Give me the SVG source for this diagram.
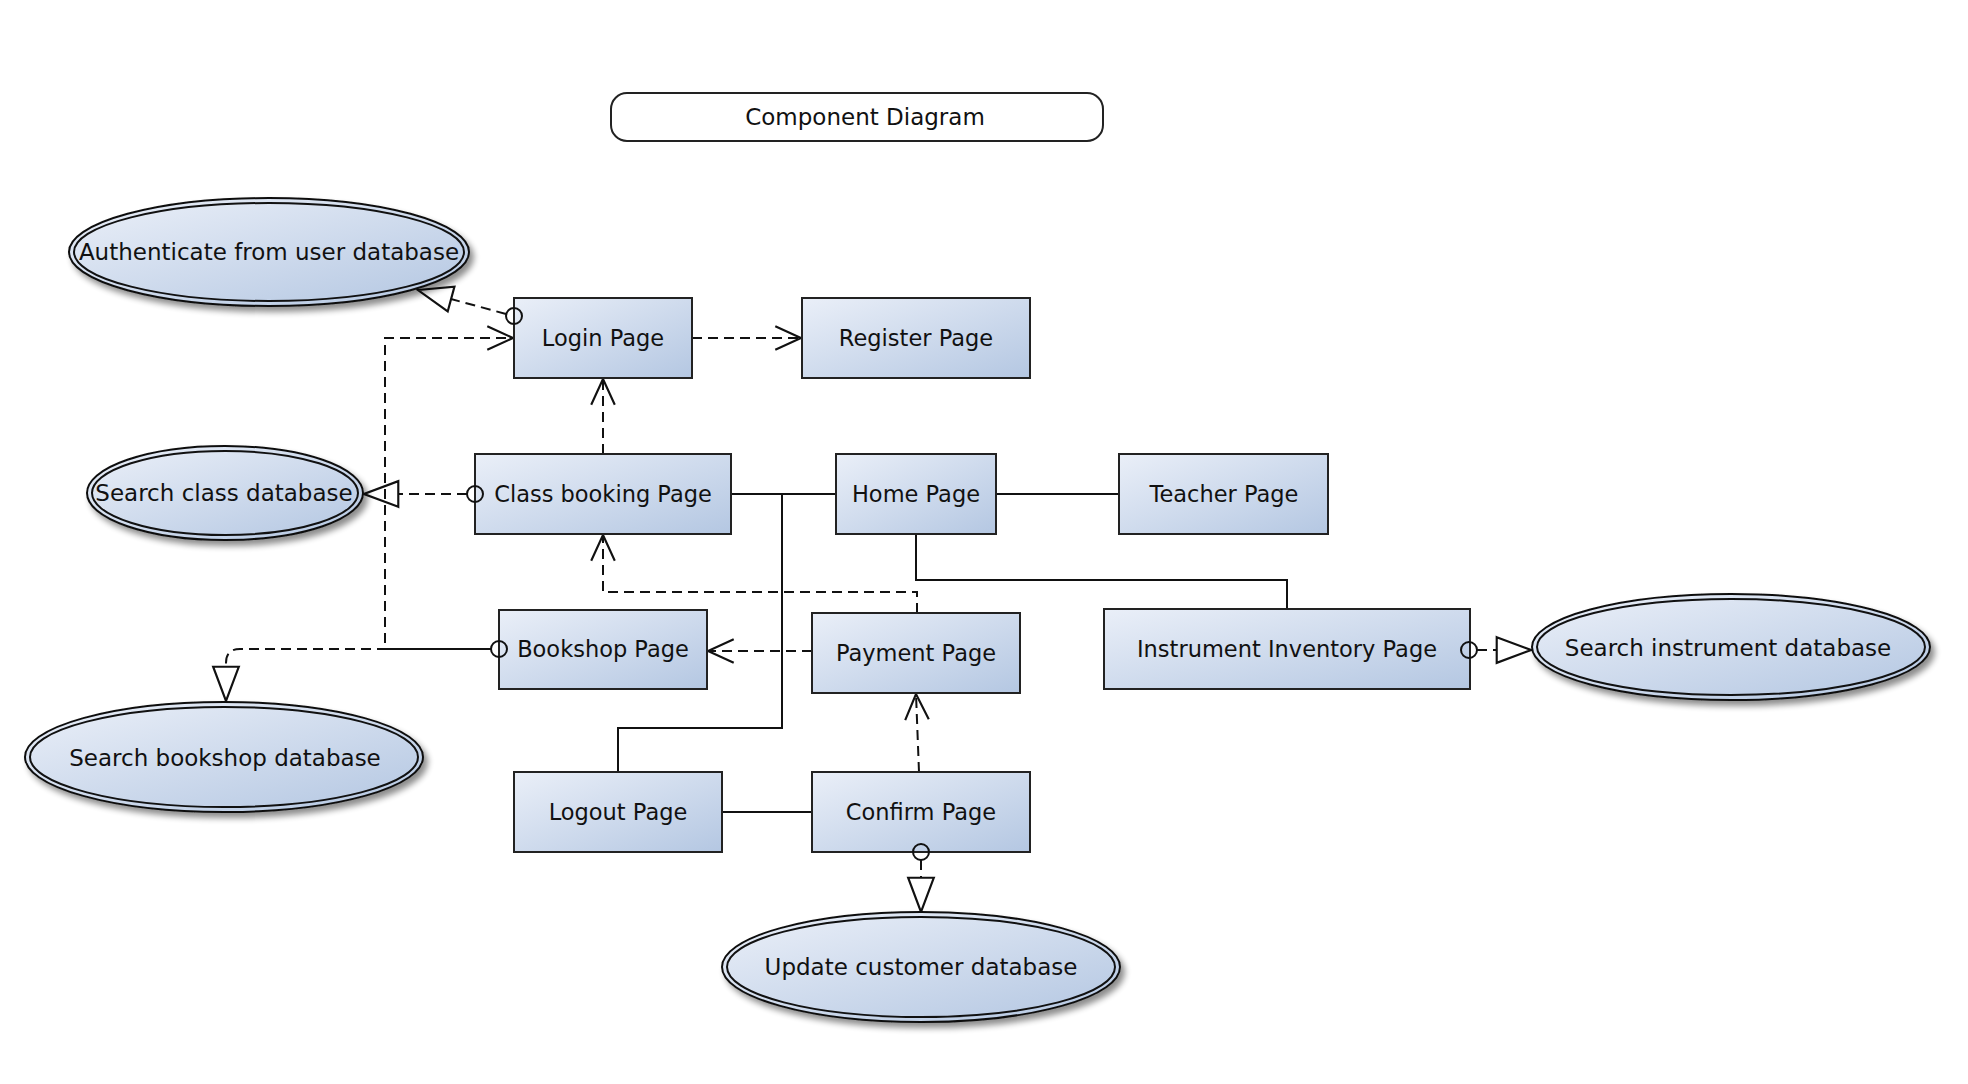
<svg xmlns="http://www.w3.org/2000/svg" width="1968" height="1084" viewBox="0 0 1968 1084">
<defs>
<linearGradient id="fill" x1="0" y1="0" x2="1" y2="1">
<stop offset="0" stop-color="#eaeff8"/>
<stop offset="1" stop-color="#b4c7e2"/>
</linearGradient>
<filter id="shadow" x="-10%" y="-20%" width="130%" height="150%">
<feGaussianBlur in="SourceAlpha" stdDeviation="3"/>
<feOffset dx="4" dy="5" result="b"/>
<feComponentTransfer><feFuncA type="linear" slope="0.45"/></feComponentTransfer>
<feMerge><feMergeNode/><feMergeNode in="SourceGraphic"/></feMerge>
</filter>
<marker id="open" markerUnits="userSpaceOnUse" markerWidth="30" markerHeight="30" viewBox="-26 -13 28 26" refX="0" refY="0" orient="auto">
<path d="M -24 -11 L 0 0 L -24 11" fill="none" stroke="#111" stroke-width="2"/>
</marker>
<marker id="tri" markerUnits="userSpaceOnUse" markerWidth="40" markerHeight="30" viewBox="-35 -14 37 28" refX="0" refY="0" orient="auto">
<path d="M -32 -12 L 0 0 L -32 12 Z" fill="#fff" stroke="#111" stroke-width="2"/>
</marker>
</defs>
<style>
text { font-family: "DejaVu Sans", "Liberation Sans", sans-serif; font-size: 22.5px; fill: #111; text-anchor: middle; }
.big { font-size: 23px; }
.box { fill: url(#fill); stroke: #222; stroke-width: 2; }
.ell { fill: url(#fill); stroke: #111; stroke-width: 2; }
.dash { fill: none; stroke: #111; stroke-width: 2; stroke-dasharray: 10 6; }
.solid { fill: none; stroke: #111; stroke-width: 2; }
.lol { fill: none; stroke: #111; stroke-width: 2; }
</style>
<rect width="1968" height="1084" fill="#fff"/>

<g id="title">
<rect x="611" y="93" width="492" height="48" rx="16" fill="#fff" stroke="#222" stroke-width="2"/>
<text class="big" x="865" y="125">Component Diagram</text>
</g>

<g id="connectors">
<path class="solid" d="M 731 494 H 836"/>
<path class="solid" d="M 996 494 H 1119"/>
<path class="solid" d="M 916 534 V 580 H 1287 V 609"/>
<path class="solid" d="M 618 772 V 728 H 782 V 494"/>
<path class="solid" d="M 722 812 H 812"/>
<path class="dash" d="M 692 338 H 801" marker-end="url(#open)"/>
<path class="dash" d="M 506 314 L 418 290" marker-end="url(#tri)"/>
<path class="dash" d="M 603 454 V 379" marker-end="url(#open)"/>
<path class="dash" d="M 467 494 H 364" marker-end="url(#tri)"/>
<path class="dash" d="M 491 649 H 385 V 338 H 513" marker-end="url(#open)"/>
<path class="dash" d="M 491 649 H 240 Q 226 649 226 663 V 701" stroke-dashoffset="8" marker-end="url(#tri)"/>
<path class="dash" d="M 812 651 H 708" marker-end="url(#open)"/>
<path class="dash" d="M 917 613 V 592 H 603 V 535" marker-end="url(#open)"/>
<path class="dash" d="M 919 772 L 916 694" marker-end="url(#open)"/>
<path class="dash" d="M 921 860 V 912" marker-end="url(#tri)"/>
<path class="dash" d="M 1477 650 H 1531" marker-end="url(#tri)"/>
</g>

<g id="login">
<rect class="box" x="514" y="298" width="178" height="80"/>
<text x="603" y="346">Login Page</text>
<circle class="lol" cx="514" cy="316" r="8"/>
</g>
<g id="register">
<rect class="box" x="802" y="298" width="228" height="80"/>
<text x="916" y="346">Register Page</text>
</g>
<g id="classbooking">
<rect class="box" x="475" y="454" width="256" height="80"/>
<text x="603" y="502">Class booking Page</text>
<circle class="lol" cx="475" cy="494" r="8"/>
</g>
<g id="home">
<rect class="box" x="836" y="454" width="160" height="80"/>
<text x="916" y="502">Home Page</text>
</g>
<g id="teacher">
<rect class="box" x="1119" y="454" width="209" height="80"/>
<text x="1224" y="502">Teacher Page</text>
</g>
<g id="bookshop">
<rect class="box" x="499" y="610" width="208" height="79"/>
<text x="603" y="657">Bookshop Page</text>
<circle class="lol" cx="499" cy="649" r="8"/>
</g>
<g id="payment">
<rect class="box" x="812" y="613" width="208" height="80"/>
<text x="916" y="661">Payment Page</text>
</g>
<g id="instrument">
<rect class="box" x="1104" y="609" width="366" height="80"/>
<text x="1287" y="657">Instrument Inventory Page</text>
<circle class="lol" cx="1469" cy="650" r="8"/>
</g>
<g id="logout">
<rect class="box" x="514" y="772" width="208" height="80"/>
<text x="618" y="820">Logout Page</text>
</g>
<g id="confirm">
<rect class="box" x="812" y="772" width="218" height="80"/>
<text x="921" y="820">Confirm Page</text>
<circle class="lol" cx="921" cy="852" r="8"/>
</g>

<g id="authenticate">
<ellipse class="ell" cx="269" cy="252" rx="200" ry="54" filter="url(#shadow)"/>
<ellipse class="ell" cx="269" cy="252" rx="195" ry="49"/>
<text class="big" x="269" y="260">Authenticate from user database</text>
</g>
<g id="searchclass">
<ellipse class="ell" cx="225" cy="493" rx="138" ry="47" filter="url(#shadow)"/>
<ellipse class="ell" cx="225" cy="493" rx="133" ry="42"/>
<text class="big" x="224" y="501">Search class database</text>
</g>
<g id="searchbookshop">
<ellipse class="ell" cx="224" cy="757" rx="199" ry="55" filter="url(#shadow)"/>
<ellipse class="ell" cx="224" cy="757" rx="194" ry="50"/>
<text class="big" x="225" y="766">Search bookshop database</text>
</g>
<g id="updatecustomer">
<ellipse class="ell" cx="921" cy="967" rx="199" ry="55" filter="url(#shadow)"/>
<ellipse class="ell" cx="921" cy="967" rx="194" ry="50"/>
<text class="big" x="921" y="975">Update customer database</text>
</g>
<g id="searchinstrument">
<ellipse class="ell" cx="1731" cy="647" rx="199" ry="53" filter="url(#shadow)"/>
<ellipse class="ell" cx="1731" cy="647" rx="194" ry="48"/>
<text class="big" x="1728" y="656">Search instrument database</text>
</g>
</svg>
